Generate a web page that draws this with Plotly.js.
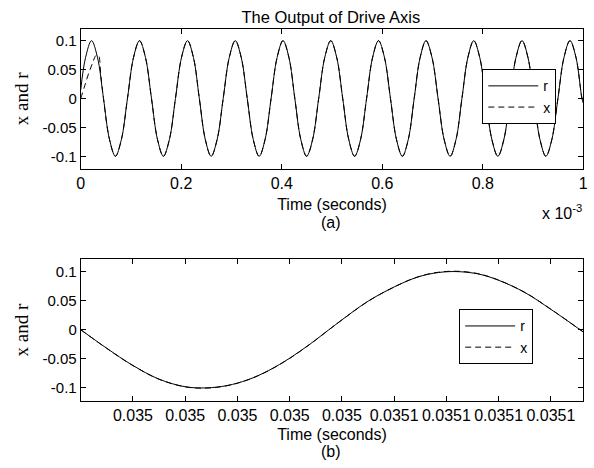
<!DOCTYPE html>
<html>
<head>
<meta charset="utf-8">
<script src="https://cdn.plot.ly/plotly-3.0.1.min.js"></script>
<style>html,body{margin:0;padding:0;background:#fff;}#plot{width:594px;height:468px;}</style>
</head>
<body>
<div id="plot"></div>
<script>
// ---------- Panel (a): time in units of 1e-3 s ----------
var timeA = [0, 0.0096, 0.0215, 0.0334, 0.0453, 0.0572, 0.0690, 0.0810, 0.0930, 0.1050,
  0.1170, 0.1289, 0.1408, 0.1527, 0.1645, 0.1765, 0.1885, 0.2005, 0.2125, 0.2243,
  0.2360, 0.2478, 0.2595, 0.2715, 0.2835, 0.2955, 0.3075, 0.3194, 0.3313, 0.3432,
  0.3550, 0.3669, 0.3788, 0.3907, 0.4025, 0.4143, 0.4260, 0.4378, 0.4495, 0.4615,
  0.4735, 0.4855, 0.4975, 0.5094, 0.5213, 0.5332, 0.5450, 0.5569, 0.5688, 0.5807,
  0.5925, 0.6044, 0.6163, 0.6282, 0.6400, 0.6518, 0.6635, 0.6753, 0.6870, 0.6990,
  0.7110, 0.7230, 0.7350, 0.7468, 0.7585, 0.7703, 0.7820, 0.7940, 0.8060, 0.8180,
  0.8300, 0.8420, 0.8540, 0.8660, 0.8780, 0.8899, 0.9018, 0.9137, 0.9255, 0.9375,
  0.9495, 0.9615, 0.9735, 0.9855, 0.9973, 1.0];
var rA = [0.015, 0.0707, 0.1, 0.0707, 0, -0.0707, -0.1, -0.0707, 0, 0.0707,
  0.1, 0.0707, 0, -0.0707, -0.1, -0.0707, 0, 0.0707, 0.1, 0.0707,
  0, -0.0707, -0.1, -0.0707, 0, 0.0707, 0.1, 0.0707, 0, -0.0707,
  -0.1, -0.0707, 0, 0.0707, 0.1, 0.0707, 0, -0.0707, -0.1, -0.0707,
  0, 0.0707, 0.1, 0.0707, 0, -0.0707, -0.1, -0.0707, 0, 0.0707,
  0.1, 0.0707, 0, -0.0707, -0.1, -0.0707, 0, 0.0707, 0.1, 0.0707,
  0, -0.0707, -0.1, -0.0707, 0, 0.0707, 0.1, 0.0707, 0, -0.0707,
  -0.1, -0.0707, 0, 0.0707, 0.1, 0.0707, 0, -0.0707, -0.1, -0.0707,
  0, 0.0707, 0.1, 0.0707, 0, -0.008];
// x lags r at start-up, then follows r (from t = 0.0453 on)
var xAStartTime = [0, 0.008, 0.016, 0.024, 0.030, 0.035, 0.040];
var xAStartValue = [0, 0.022, 0.044, 0.062, 0.074, 0.075, 0.040];
var xAJoinIndex = 4;

var xTicksA = [0, 0.2, 0.4, 0.6, 0.8, 1];
var xTickTextA = ["0", "0.2", "0.4", "0.6", "0.8", "1"];
var yTicks = [-0.1, -0.05, 0, 0.05, 0.1];
var yTickText = ["-0.1", "-0.05", "0", "0.05", "0.1"];

// ---------- Panel (b): time in seconds ----------
var timeB = [0.035, 0.035005, 0.03501, 0.035015, 0.03502, 0.035024, 0.035028, 0.035032,
  0.035036, 0.03504, 0.035044, 0.0350475, 0.03505, 0.035055, 0.03506, 0.035064,
  0.0350675, 0.0350715, 0.035076, 0.03508, 0.035085, 0.03509, 0.0350962];
var rB = [0, -0.032, -0.0615, -0.085, -0.098, -0.1, -0.096, -0.086,
  -0.070, -0.049, -0.024, 0, 0.017, 0.049, 0.0735, 0.089,
  0.097, 0.1, 0.096, 0.085, 0.064, 0.035, -0.004];
var xB = [0, -0.0322, -0.0617, -0.0852, -0.0982, -0.1003, -0.0962, -0.0862,
  -0.0702, -0.0492, -0.0242, -0.0002, 0.0168, 0.0488, 0.0734, 0.0892,
  0.0975, 0.1006, 0.0965, 0.0852, 0.0642, 0.0352, -0.0038];
var xTicksB = [0.03501, 0.03502, 0.03503, 0.03504, 0.03505, 0.03506, 0.03507, 0.03508, 0.03509];
var xTickTextB = ["0.035", "0.035", "0.035", "0.035", "0.035", "0.0351", "0.0351", "0.0351", "0.0351"];

var seriesNames = ["r", "x"];

// build x(t) for panel (a)
var xATime = xAStartTime.concat(timeA.slice(xAJoinIndex));
var xAValue = xAStartValue.concat(rA.slice(xAJoinIndex));

var SANS = "Arial, 'Liberation Sans', sans-serif";
var SERIF = "'Times New Roman', 'Liberation Serif', serif";
var solid = {color: "#000", width: 1, shape: "spline", smoothing: 1};
var dashed = {color: "#000", width: 1, dash: "6px,4px", shape: "spline", smoothing: 1};

var traces = [
  {x: timeA, y: rA, name: seriesNames[0], mode: "lines", line: solid, xaxis: "x", yaxis: "y", legend: "legend"},
  {x: xATime, y: xAValue, name: seriesNames[1], mode: "lines", line: dashed, xaxis: "x", yaxis: "y", legend: "legend"},
  {x: timeB, y: rB, name: seriesNames[0], mode: "lines", line: solid, xaxis: "x2", yaxis: "y2", legend: "legend2"},
  {x: timeB, y: xB, name: seriesNames[1], mode: "lines", line: dashed, xaxis: "x2", yaxis: "y2", legend: "legend2"}
];

function axisBase(tickSize) {
  return {
    showline: true, linecolor: "#000", linewidth: 1, mirror: "ticks",
    ticks: "inside", ticklen: 5, tickwidth: 1, tickcolor: "#000",
    showgrid: false, zeroline: false, tickmode: "array",
    tickfont: {family: SANS, size: tickSize, color: "#000"}
  };
}

var xTitleFont = {family: SANS, size: 16, color: "#000"};
var yTitleFont = {family: SERIF, size: 19, color: "#000"};

var xa = axisBase(16);
Object.assign(xa, {domain: [0.1359, 0.982], range: [0, 1], tickvals: xTicksA, ticktext: xTickTextA,
  anchor: "y", title: {text: "Time (seconds)", font: xTitleFont, standoff: 7}});
var ya = axisBase(15);
Object.assign(ya, {domain: [0.6389, 0.9391], range: [-0.122, 0.121], tickvals: yTicks, ticktext: yTickText,
  anchor: "x", title: {text: "x and r", font: yTitleFont, standoff: 8}});
var xb = axisBase(16);
Object.assign(xb, {domain: [0.1359, 0.982], range: [0.035, 0.0350962], tickvals: xTicksB, ticktext: xTickTextB,
  anchor: "y2", title: {text: "Time (seconds)", font: xTitleFont, standoff: 5}});
var yb = axisBase(15);
Object.assign(yb, {domain: [0.1438, 0.4459], range: [-0.122, 0.121], tickvals: yTicks, ticktext: yTickText,
  anchor: "x2", title: {text: "x and r", font: yTitleFont, standoff: 8}});

function legendBox(x, y) {
  return {x: x, y: y, xanchor: "left", yanchor: "top", bgcolor: "#fff", bordercolor: "#000", borderwidth: 1,
    font: {family: SANS, size: 14, color: "#000"}, itemwidth: 50, tracegroupgap: 0};
}

var layout = {
  width: 594, height: 468,
  margin: {l: 0, r: 0, t: 0, b: 0},
  paper_bgcolor: "#fff", plot_bgcolor: "#fff",
  font: {family: SANS, size: 16, color: "#000"},
  title: {text: "The Output of Drive Axis", x: 0.557, xanchor: "center", y: 1 - 17 / 468, yanchor: "middle",
    font: {family: SANS, size: 16.5, color: "#000"}},
  showlegend: true,
  legend: legendBox(0.812, 0.852),
  legend2: legendBox(0.773, 0.339),
  xaxis: xa, yaxis: ya, xaxis2: xb, yaxis2: yb,
  annotations: [
    {text: "(a)", xref: "paper", yref: "paper", x: 0.557, y: 1 - 222 / 468, xanchor: "center", yanchor: "middle",
      showarrow: false, font: {family: SANS, size: 16, color: "#000"}},
    {text: "(b)", xref: "paper", yref: "paper", x: 0.557, y: 1 - 451 / 468, xanchor: "center", yanchor: "middle",
      showarrow: false, font: {family: SANS, size: 16, color: "#000"}},
    {text: "x 10<sup>-3</sup>", xref: "paper", yref: "paper", x: 584 / 594, y: 1 - 212 / 468, xanchor: "right", yanchor: "middle",
      showarrow: false, font: {family: SANS, size: 16, color: "#000"}}
  ]
};

Plotly.newPlot("plot", traces, layout, {staticPlot: true, displayModeBar: false});
</script>
</body>
</html>
